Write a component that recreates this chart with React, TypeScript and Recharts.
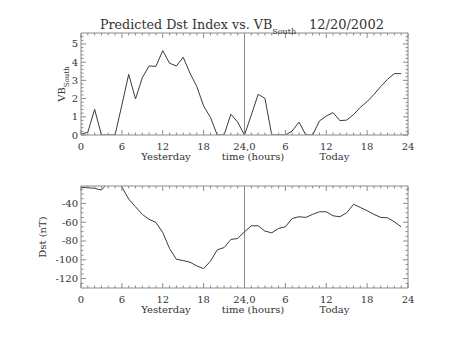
import React from 'react';
import { LineChart, Line, XAxis, YAxis, ReferenceLine } from 'recharts';

const hours = [0,1,2,3,4,5,6,7,8,9,10,11,12,13,14,15,16,17,18,19,20,21,22,23,24,25,26,27,28,29,30,31,32,33,34,35,36,37,38,39,40,41,42,43,44,45,46,47];
const vbSouth = [0.05,0.15,1.41,0,0,0,1.65,3.33,1.98,3.15,3.79,3.77,4.63,3.94,3.79,4.27,3.39,2.66,1.59,0.97,0,0,1.14,0.71,0,1.1,2.23,2.01,0,0,0,0.22,0.71,0,0,0.77,1.04,1.23,0.79,0.82,1.12,1.52,1.83,2.23,2.66,3.06,3.37,3.37];
const dst = [-22.9,-23.3,-24,-25.8,-18,-16,-22.5,-35.4,-43.6,-51.7,-57,-60.3,-71,-88,-99.4,-100.8,-102.6,-106.5,-109.3,-101.5,-89.4,-87,-78.4,-77.3,-70.2,-63.8,-63.8,-69.5,-71.3,-66.7,-64.9,-56,-54.2,-54.9,-51.7,-48.9,-48.9,-53.2,-54.2,-50,-41,-44.3,-47.8,-51.7,-54.9,-55.3,-59.6,-64.9];

const xTickValues = [0,1,2,3,4,5,6,7,8,9,10,11,12,13,14,15,16,17,18,19,20,21,22,23,24,25,26,27,28,29,30,31,32,33,34,35,36,37,38,39,40,41,42,43,44,45,46,47,48];
const xTickLabels = ['0','6','12','18','24,0','6','12','18','24'];
const vbTicks = [0,0.2,0.4,0.6,0.8,1,1.2,1.4,1.6,1.8,2,2.2,2.4,2.6,2.8,3,3.2,3.4,3.6,3.8,4,4.2,4.4,4.6,4.8,5,5.2,5.4];
const vbMajor = [0,1,2,3,4,5];
const dstTicks = [-125,-120,-115,-110,-105,-100,-95,-90,-85,-80,-75,-70,-65,-60,-55,-50,-45,-40,-35,-30,-25];
const dstMajor = [-120,-100,-80,-60,-40];

const topData = hours.map((h, i) => ({ hour: h, vb: vbSouth[i] }));
const botData = hours.map((h, i) => ({ hour: h, dst: dst[i] }));

const FRAME = '#8a8a8a';
const LINE = '#3a3a3a';
const TEXT = '#333';
const FONT = "'DejaVu Serif', serif";

const isMajorX = (v: number) => v % 6 === 0;

const BottomTick = (props: any) => {
  const { x, y, payload } = props;
  const v = payload.value;
  const major = isMajorX(v);
  return (
    <g>
      <line x1={x} x2={x} y1={y} y2={y - (major ? 5 : 2.5)} stroke={FRAME} />
      {major && (
        <text x={x} y={y + 15} textAnchor="middle" fontSize={10} fontFamily={FONT} fill={TEXT}>
          {xTickLabels[v / 6]}
        </text>
      )}
    </g>
  );
};

const TopTick = (props: any) => {
  const { x, y, payload } = props;
  const major = isMajorX(payload.value);
  return <line x1={x} x2={x} y1={y} y2={y + (major ? 5 : 2.5)} stroke={FRAME} />;
};

const makeLeftTick = (majors: number[]) => (props: any) => {
  const { x, y, payload } = props;
  const v = payload.value;
  const major = majors.some((m) => Math.abs(m - v) < 1e-6);
  return (
    <g>
      <line x1={x} x2={x + (major ? 5 : 2.5)} y1={y} y2={y} stroke={FRAME} />
      {major && (
        <text x={x - 3} y={y + 3.5} textAnchor="end" fontSize={10} fontFamily={FONT} fill={TEXT}>
          {String(Math.round(v))}
        </text>
      )}
    </g>
  );
};

const makeRightTick = (majors: number[]) => (props: any) => {
  const { x, y, payload } = props;
  const v = payload.value;
  const major = majors.some((m) => Math.abs(m - v) < 1e-6);
  return <line x1={x} x2={x - (major ? 5 : 2.5)} y1={y} y2={y} stroke={FRAME} />;
};

const Panel = ({ data, dataKey, domain, yTicks, yMajor, margin }: any) => (
  <LineChart width={453} height={170} data={data} margin={margin}>
    <XAxis xAxisId="b" dataKey="hour" type="number" domain={[0, 48]} ticks={xTickValues} interval={0}
      height={1} tickSize={0} tickMargin={0} tickLine={false} axisLine={{ stroke: FRAME }} tick={<BottomTick />} />
    <XAxis xAxisId="t" orientation="top" dataKey="hour" type="number" domain={[0, 48]} ticks={xTickValues} interval={0}
      height={1} tickSize={0} tickMargin={0} tickLine={false} axisLine={{ stroke: FRAME }} tick={<TopTick />} />
    <YAxis yAxisId="l" type="number" domain={domain} allowDataOverflow ticks={yTicks} interval={0}
      width={1} tickSize={0} tickMargin={0} tickLine={false} axisLine={{ stroke: FRAME }} tick={makeLeftTick(yMajor)} />
    <YAxis yAxisId="r" orientation="right" type="number" domain={domain} allowDataOverflow ticks={yTicks} interval={0}
      width={1} tickSize={0} tickMargin={0} tickLine={false} axisLine={{ stroke: FRAME }} tick={makeRightTick(yMajor)} />
    <ReferenceLine xAxisId="b" yAxisId="l" x={24} stroke={FRAME} />
    <Line xAxisId="b" yAxisId="l" type="linear" dataKey={dataKey} stroke={LINE} strokeWidth={1}
      dot={false} isAnimationActive={false} />
  </LineChart>
);

export default function App() {
  return (
    <div style={{ position: 'absolute', left: 0, top: 0, width: 453, height: 340, background: '#fff' }}>
      <div style={{ position: 'absolute', left: 0, top: 0 }}>
        <Panel data={topData} dataKey="vb" domain={[0, 5.6]} yTicks={vbTicks} yMajor={vbMajor}
          margin={{ top: 32, right: 44, bottom: 34, left: 80 }} />
      </div>
      <div style={{ position: 'absolute', left: 0, top: 170 }}>
        <Panel data={botData} dataKey="dst" domain={[-130, -21.5]} yTicks={dstTicks} yMajor={dstMajor}
          margin={{ top: 15, right: 44, bottom: 51, left: 80 }} />
      </div>
      <svg width={453} height={340} style={{ position: 'absolute', left: 0, top: 0, pointerEvents: 'none' }}
        fontFamily={FONT} fill={TEXT}>
        <text x={100} y={29} fontSize={12.7}>
          Predicted Dst Index vs. VB<tspan fontSize={8} dy={5}>South</tspan>
        </text>
        <text x={309} y={29} fontSize={13}>12/20/2002</text>
        <text x={65} y={84} fontSize={10} textAnchor="middle" transform="rotate(-90, 65, 84)">
          VB<tspan fontSize={7} dy={4}>South</tspan>
        </text>
        <text x={45.5} y={237} fontSize={10} textAnchor="middle" transform="rotate(-90, 45.5, 237)">Dst (nT)</text>
        <text x={166} y={160} fontSize={10} textAnchor="middle">Yesterday</text>
        <text x={253} y={160} fontSize={10} textAnchor="middle">time (hours)</text>
        <text x={334.5} y={160} fontSize={10} textAnchor="middle">Today</text>
        <text x={166} y={313} fontSize={10} textAnchor="middle">Yesterday</text>
        <text x={253} y={313} fontSize={10} textAnchor="middle">time (hours)</text>
        <text x={334.5} y={313} fontSize={10} textAnchor="middle">Today</text>
      </svg>
    </div>
  );
}
